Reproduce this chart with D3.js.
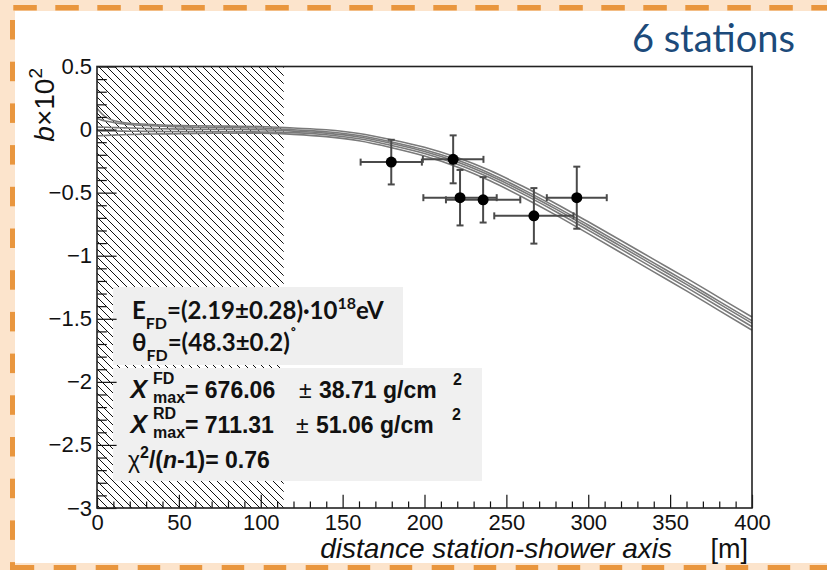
<!DOCTYPE html>
<html>
<head>
<meta charset="utf-8">
<script src="https://cdn.jsdelivr.net/npm/d3@7/dist/d3.min.js"></script>
<style>
html,body{margin:0;padding:0;background:#fff;}
svg{display:block;}
</style>
</head>
<body>
<svg id="c" width="827" height="570"></svg>
<script>
// ---------------- data ----------------
const stationDist    = [179.7, 217.5, 221.7, 235.8, 266.8, 293.0];
const stationDistErr = [18.7, 18.5, 22.4, 22.7, 24.2, 18.3];
const bValues        = [-0.258, -0.236, -0.54, -0.557, -0.684, -0.54];
const bErr           = [0.177, 0.19, 0.22, 0.18, 0.22, 0.246];

const curveR = [0,3,6,10,15,20,30,40,60,80,100,120,140,160,180,200,220,240,260,280,300,320,340,360,380,400];
const curve1 = [0.17,0.125,0.095,0.072,0.058,0.05,0.042,0.036,0.03,0.027,0.024,0.012,-0.002,-0.031,-0.080,-0.140,-0.221,-0.325,-0.450,-0.586,-0.731,-0.879,-1.029,-1.178,-1.332,-1.486];
const curve2 = [0.087,0.075,0.066,0.056,0.046,0.04,0.032,0.026,0.019,0.015,0.012,-0.002,-0.017,-0.047,-0.098,-0.160,-0.242,-0.348,-0.474,-0.611,-0.757,-0.906,-1.057,-1.207,-1.362,-1.516];
const curve3 = [0.02,0.019,0.018,0.016,0.014,0.012,0.009,0.006,0.003,0.001,-0.002,-0.012,-0.028,-0.059,-0.111,-0.174,-0.257,-0.364,-0.491,-0.629,-0.776,-0.926,-1.077,-1.227,-1.382,-1.536];
const curve4 = [-0.01,-0.01,-0.01,-0.011,-0.012,-0.013,-0.014,-0.015,-0.016,-0.017,-0.019,-0.024,-0.041,-0.073,-0.126,-0.190,-0.274,-0.382,-0.510,-0.649,-0.797,-0.948,-1.100,-1.251,-1.407,-1.562];
const curve5 = [-0.05,-0.048,-0.046,-0.044,-0.041,-0.039,-0.036,-0.034,-0.031,-0.029,-0.028,-0.038,-0.056,-0.089,-0.144,-0.210,-0.296,-0.406,-0.536,-0.676,-0.825,-0.976,-1.128,-1.279,-1.435,-1.590];
const curves = [curve1, curve2, curve3, curve4, curve5];

const hatchLimit = 114; // excluded region [m]

const xMajorTicks = [0,50,100,150,200,250,300,350,400];
const xTickLabels = ["0","50","100","150","200","250","300","350","400"];
const yMajorTicks = [-3,-2.5,-2,-1.5,-1,-0.5,0,0.5];
const yTickLabels = ["\u22123","\u22122.5","\u22122","\u22121.5","\u22121","\u22120.5","0","0.5"];

// ---------------- layout ----------------
const svg = d3.select("#c");
const W = 827, H = 570;
const L = 97, R = 752, T = 66.5, B = 508;
const x = d3.scaleLinear().domain([0,400]).range([L,R]);
const y = d3.scaleLinear().domain([-3,0.5]).range([B,T]);

const peach = "#fce4cc", orange = "#e9963e";
svg.append("rect").attr("width",W).attr("height",H).attr("fill","#fff");
// decorative frame
svg.append("rect").attr("x",0).attr("y",0).attr("width",W).attr("height",11).attr("fill",peach);
svg.append("rect").attr("x",0).attr("y",0).attr("width",15).attr("height",H).attr("fill",peach);
svg.append("rect").attr("x",0).attr("y",563).attr("width",W).attr("height",7).attr("fill",peach);
const deco = svg.append("g").attr("fill",orange);
for (let k=0; 13.3+42*k < W; k++) deco.append("rect").attr("x",13.3+42*k).attr("y",5).attr("width",23.5).attr("height",5.5);
for (let k=0; 11.7+42*k < W; k++) deco.append("rect").attr("x",11.7+42*k).attr("y",565).attr("width",22.5).attr("height",5);
for (let k=0; 20+41.7*k < H; k++) deco.append("rect").attr("x",10).attr("y",20+41.7*k).attr("width",5).attr("height",19.5);

// title
svg.append("text").attr("x",795).attr("y",52).attr("text-anchor","end")
  .attr("font-family","Lato, 'Open Sans', sans-serif").attr("font-size",38)
  .attr("fill","#1c4a7a").text("6 stations");

// hatch pattern
const defs = svg.append("defs");
const pat = defs.append("pattern").attr("id","hatch").attr("patternUnits","userSpaceOnUse")
  .attr("width",8).attr("height",8);
pat.append("path").attr("d","M0,0L8,8M-2,6L2,10M6,-2L10,2")
  .attr("stroke","#111").attr("stroke-width",1).attr("fill","none");

svg.append("rect").attr("x",x(0)).attr("y",T).attr("width",x(hatchLimit)-x(0)).attr("height",B-T)
  .attr("fill","url(#hatch)");

// curves
const line = d3.line().x((d,i)=>x(curveR[i])).y(d=>y(d)).curve(d3.curveMonotoneX);
svg.append("g").selectAll("path").data(curves).join("path")
  .attr("d",line).attr("fill","none").attr("stroke","#7a7a7a").attr("stroke-width",1.6);

// error bars
const eb = svg.append("g").attr("stroke","#4a4a4a").attr("stroke-width",2).attr("fill","none");
const cap = 3.5;
stationDist.forEach((r,i)=>{
  const cx = x(r), cy = y(bValues[i]);
  const x1 = x(r-stationDistErr[i]), x2 = x(r+stationDistErr[i]);
  const y1 = y(bValues[i]+bErr[i]), y2 = y(bValues[i]-bErr[i]);
  eb.append("line").attr("x1",x1).attr("x2",x2).attr("y1",cy).attr("y2",cy);
  eb.append("line").attr("x1",cx).attr("x2",cx).attr("y1",y1).attr("y2",y2);
  eb.append("line").attr("x1",x1).attr("x2",x1).attr("y1",cy-cap).attr("y2",cy+cap);
  eb.append("line").attr("x1",x2).attr("x2",x2).attr("y1",cy-cap).attr("y2",cy+cap);
  eb.append("line").attr("x1",cx-cap).attr("x2",cx+cap).attr("y1",y1).attr("y2",y1);
  eb.append("line").attr("x1",cx-cap).attr("x2",cx+cap).attr("y1",y2).attr("y2",y2);
});
svg.append("g").selectAll("circle").data(stationDist).join("circle")
  .attr("cx",d=>x(d)).attr("cy",(d,i)=>y(bValues[i])).attr("r",5.5).attr("fill","#000");

// text boxes
svg.append("rect").attr("x",113).attr("y",287).attr("width",290).attr("height",78).attr("fill","#efefef");
svg.append("rect").attr("x",113).attr("y",368).attr("width",369).attr("height",113).attr("fill","#f0f0f0");

const f1 = "Lato, 'Open Sans', sans-serif";
const t1 = svg.append("text").attr("x",132).attr("y",319).attr("font-family",f1).attr("font-weight","bold").attr("font-size",24).attr("fill","#111");
t1.append("tspan").text("E");
t1.append("tspan").attr("font-size",16).attr("dy",10).text("FD");
t1.append("tspan").attr("dy",-10).text("=(2.19\u00b10.28)\u00b710");
t1.append("tspan").attr("font-size",16).attr("dy",-10).text("18");
t1.append("tspan").attr("dy",10).text("eV");
const t2 = svg.append("text").attr("x",132).attr("y",351).attr("font-family",f1).attr("font-weight","bold").attr("font-size",24).attr("fill","#111");
t2.append("tspan").text("\u03b8");
t2.append("tspan").attr("font-size",16).attr("dy",10).text("FD");
t2.append("tspan").attr("dy",-10).text("=(48.3\u00b10.2)");
t2.append("tspan").attr("font-size",18).attr("dy",-9).text("\u02da");

const f2 = "'Liberation Sans', Arial, Helvetica, sans-serif";
function xmaxLine(yb, sup, val, pmx, err, sx){
  const g = svg.append("g").attr("font-family",f2).attr("fill","#111");
  g.append("text").attr("x",130.5).attr("y",yb).attr("font-size",25).attr("font-weight","bold").attr("font-style","italic").text("X");
  g.append("text").attr("x",153).attr("y",yb-14).attr("font-size",16).attr("font-weight","bold").text(sup);
  g.append("text").attr("x",153).attr("y",yb+5).attr("font-size",16).attr("font-weight","bold").text("max");
  g.append("text").attr("x",185).attr("y",yb).attr("font-size",23).attr("font-weight","bold").text("= "+val);
  g.append("text").attr("x",pmx).attr("y",yb).attr("font-size",23).text("\u00b1");
  g.append("text").attr("x",pmx+20).attr("y",yb).attr("font-size",23).attr("font-weight","bold").text(err+" g/cm");
  g.append("text").attr("x",sx).attr("y",yb-13).attr("font-size",16).attr("font-weight","bold").text("2");
}
xmaxLine(398, "FD", "676.06", 299, "38.71", 453);
xmaxLine(433, "RD", "711.31", 296, "51.06", 452);
const t3 = svg.append("text").attr("x",128).attr("y",468).attr("font-family",f2).attr("font-size",23).attr("font-weight","bold").attr("fill","#111");
t3.append("tspan").attr("font-weight","normal").text("\u03c7");
t3.append("tspan").attr("font-size",16).attr("dy",-10).text("2");
t3.append("tspan").attr("dy",10).text("/(");
t3.append("tspan").attr("font-style","italic").text("n");
t3.append("tspan").text("-1)= 0.76");

// axes
const axFont = (g)=>g.selectAll("text").attr("font-family",f2).attr("font-size",22).attr("fill","#111");
const xAx = svg.append("g").attr("transform",`translate(0,${B})`)
  .call(d3.axisBottom(x).tickValues(xMajorTicks).tickFormat((d,i)=>xTickLabels[i]).tickSize(-13.3).tickPadding(6));
xAx.call(axFont);
const xMinor = d3.range(0,401,10).filter(v=>v%50!==0);
svg.append("g").attr("transform",`translate(0,${B})`)
  .call(d3.axisBottom(x).tickValues(xMinor).tickFormat("").tickSize(-6.6));
const yAx = svg.append("g").attr("transform",`translate(${L},0)`)
  .call(d3.axisLeft(y).tickValues(yMajorTicks).tickFormat((d,i)=>yTickLabels[i]).tickSize(-19.6).tickPadding(5));
yAx.call(axFont);
const yMinor = d3.range(-30,6,1).filter(v=>v%5!==0).map(v=>v/10);
svg.append("g").attr("transform",`translate(${L},0)`)
  .call(d3.axisLeft(y).tickValues(yMinor).tickFormat("").tickSize(-9.8));
svg.selectAll(".domain").remove();
svg.selectAll(".tick line").attr("stroke","#111").attr("stroke-width",1.2);

// frame
svg.append("rect").attr("x",L).attr("y",T).attr("width",R-L).attr("height",B-T)
  .attr("fill","none").attr("stroke","#222").attr("stroke-width",1.6);

// axis titles
const yt = svg.append("text").attr("transform",`translate(54,68) rotate(-90)`).attr("text-anchor","end")
  .attr("font-family",f2).attr("font-size",28).attr("fill","#111");
yt.append("tspan").attr("font-style","italic").text("b");
yt.append("tspan").text("\u00d710");
yt.append("tspan").attr("font-size",19).attr("dy",-12).text("2");

svg.append("text").attr("x",672).attr("y",558).attr("text-anchor","end").attr("font-family",f2)
  .attr("font-size",28).attr("font-style","italic").attr("fill","#111").text("distance station-shower axis");
svg.append("text").attr("x",748).attr("y",558).attr("text-anchor","end").attr("font-family",f2)
  .attr("font-size",27).attr("fill","#111").text("[m]");
</script>
</body>
</html>
